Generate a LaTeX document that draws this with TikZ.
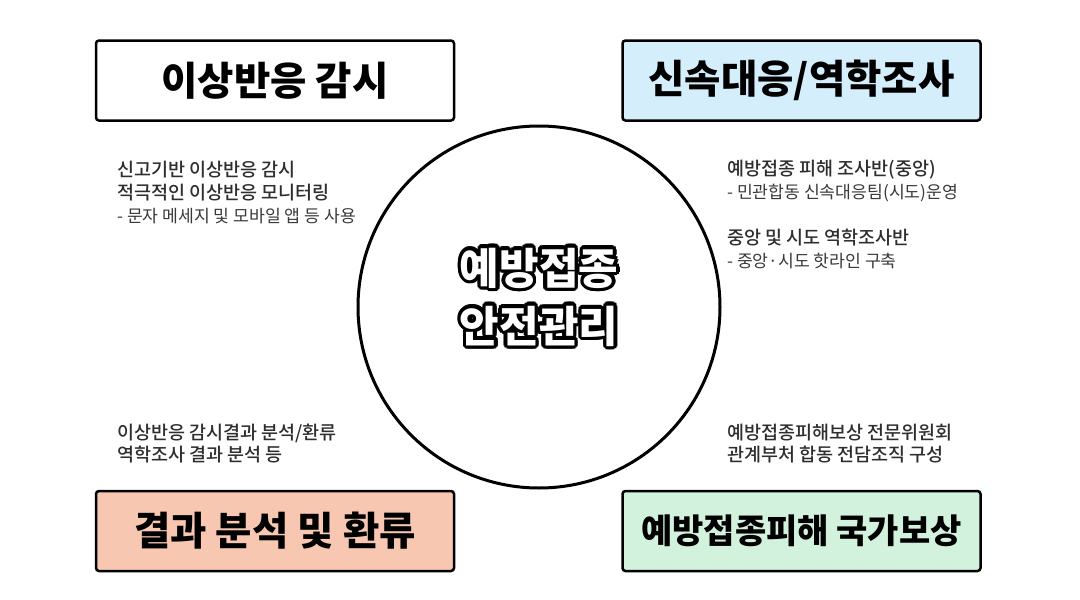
\documentclass[tikz,border=0pt]{standalone}
\usepackage{fontspec}
\usetikzlibrary{calc}
\setmainfont{Noto Sans CJK KR}
\newfontfamily\kr{Noto Sans CJK KR}
\newfontfamily\krheavy{Noto Sans CJK KR Black}
\newfontfamily\krmed{Noto Sans CJK KR Medium}
\definecolor{bluefill}{HTML}{D4EEFB}
\definecolor{salmonfill}{HTML}{F8C7B1}
\definecolor{greenfill}{HTML}{D2F2DD}
\definecolor{txt}{HTML}{2E2E2E}
\definecolor{subtxt}{HTML}{3A3A3A}
\tikzset{
  titlebox/.style={draw=black, line width=2.5pt, rounded corners=3pt, minimum width=358pt, minimum height=80pt, inner sep=0pt, font=\krheavy\fontsize{39.5}{44}\selectfont},
  mainline/.style={anchor=west, inner sep=0pt, text=txt, font=\krmed\fontsize{18.5}{20}\selectfont},
  subline/.style={anchor=west, inner sep=0pt, text=subtxt, font=\kr\fontsize{17.2}{19}\selectfont},
  centerfont/.style={inner sep=0pt, font=\krheavy\fontsize{43}{46}\selectfont}
}
\begin{document}
\begin{tikzpicture}[x=1pt,y=-1pt]
\useasboundingbox (0,0) rectangle (1080,600);
\fill[white] (0,0) rectangle (1080,600);

% central circle
\node[draw=black, line width=3pt, circle, minimum size=362pt, inner sep=0pt] (hub) at (539,307) {};

% title boxes
\node[titlebox, fill=white] (tl) at (275,80.5) {이상반응 감시};
\node[titlebox, fill=bluefill] (tr) at (801.5,80.5) {신속대응/역학조사};
\node[titlebox, fill=salmonfill] (bl) at (275,531) {결과 분석 및 환류};
\node[titlebox, fill=greenfill, font=\krheavy\fontsize{34}{40}\selectfont] (br) at (801.5,531) {예방접종피해 국가보상};

% top-left text
\node[mainline] (tl1) at (117,170) {신고기반 이상반응 감시};
\node[mainline] (tl2) at (117,193) {적극적인 이상반응 모니터링};
\node[subline] (tl3) at (117,216) {- 문자 메세지 및 모바일 앱 등 사용};

% top-right text
\node[mainline] (tr1) at (727,170) {예방접종 피해 조사반(중앙)};
\node[subline] (tr2) at (727,193) {- 민관합동 신속대응팀(시도)운영};
\node[mainline] (tr3) at (727,238) {중앙 및 시도 역학조사반};
\node[subline] (tr4) at (727,261) {- 중앙·시도 핫라인 구축};

% bottom-left text
\node[mainline] (bl1) at (117,433) {이상반응 감시결과 분석/환류};
\node[mainline] (bl2) at (117,455) {역학조사 결과 분석 등};

% bottom-right text
\node[mainline] (br1) at (727,433) {예방접종피해보상 전문위원회};
\node[mainline] (br2) at (727,455) {관계부처 합동 전담조직 구성};

% outlined center text
\foreach \a in {0,22.5,...,337.5}{
  \node[centerfont, text=black] (o1\a) at ($(539,268)+(\a:3.5)$) {예방접종};
  \node[centerfont, text=black] (o2\a) at ($(539,326)+(\a:3.5)$) {안전관리};
}
\node[centerfont, text=white] (c1) at (539,268) {예방접종};
\node[centerfont, text=white] (c2) at (539,326) {안전관리};
\end{tikzpicture}
\end{document}
